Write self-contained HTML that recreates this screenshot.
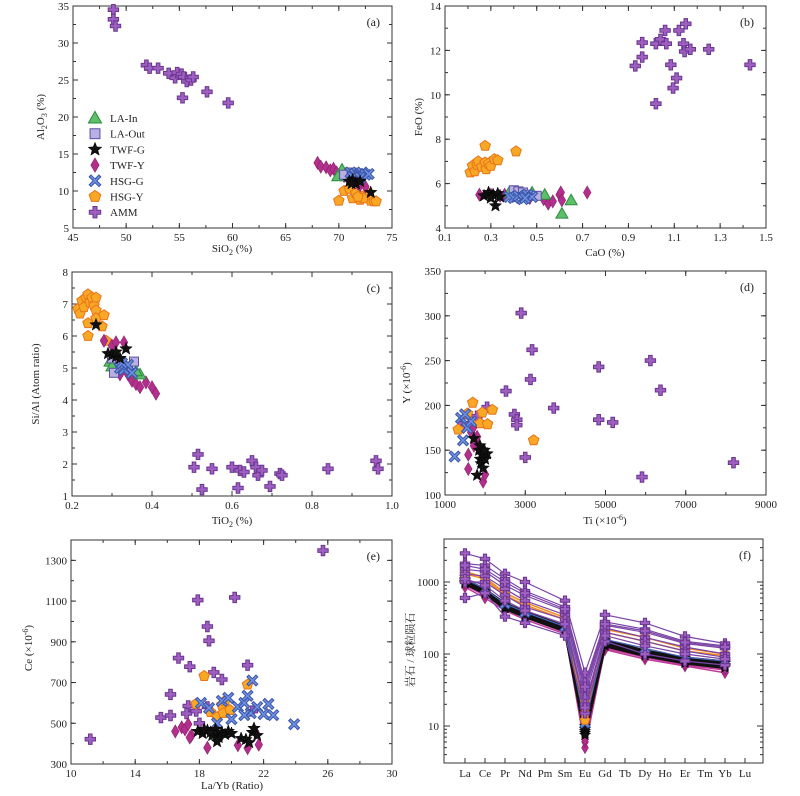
<!DOCTYPE html>
<html><head><meta charset="utf-8"><style>
html,body{margin:0;padding:0;background:#fff;}
svg{display:block;font-family:"Liberation Serif","Noto Serif CJK SC",serif;}
</style></head><body>
<svg id="fig" width="800" height="796" viewBox="0 0 800 796" xmlns="http://www.w3.org/2000/svg"></svg>
<script>
// ---------- data ----------
const groupNames = ["LA-In","LA-Out","TWF-G","TWF-Y","HSG-G","HSG-Y","AMM"];
// panel a: SiO2 vs Al2O3
const a_AMM=[[48.8,34.5],[48.8,33.2],[49,32.3],[51.9,27],[52.2,26.6],[53,26.6],[54,25.9],[54.6,25.3],[54.8,26],[55.2,25.8],[55.4,25.4],[55.7,24.8],[56.1,25],[56.3,25.4],[55.3,22.6],[57.6,23.4],[59.6,21.9]];
const a_TWFY=[[68,13.8],[68.3,13.3],[68.8,13.2],[69.2,12.8],[69.5,13],[69.8,12.5],[70.2,12.2],[70.5,12],[71,11.8],[71.5,11.5],[72,10.8],[72.5,10.6],[71.8,11],[70.8,12.3]];
const a_LAIn=[[70.3,12.9],[69.9,12],[70.6,12.3]];
const a_LAOut=[[70.5,12.2],[71.2,12.5],[71.8,12.4]];
const a_HSGG=[[71.1,12.5],[71.5,12.3],[71.9,12.1],[72.2,12.5],[72.5,12.2],[71.3,11.9],[72.8,12.3],[72.0,11.8]];
const a_TWFG=[[71,11.3],[71.3,11.5],[71.6,11],[72,11.3],[73,9.8],[71.2,11.0]];
const a_HSGY=[[70,8.7],[70.5,10],[71,10.3],[71.3,9],[71.6,9.7],[72,8.8],[72.5,9.5],[72.8,9.6],[73,8.7],[73.3,8.6],[73.5,8.6],[72.3,9],[71.8,9.2]];
// panel b: CaO vs FeO
const b_AMM=[[0.93,11.3],[0.96,12.35],[0.96,11.7],[1.02,9.6],[1.02,12.3],[1.04,12.5],[1.06,12.9],[1.065,12.3],[1.085,11.35],[1.095,10.3],[1.11,10.75],[1.12,12.9],[1.14,12.3],[1.145,11.95],[1.15,13.2],[1.17,12.05],[1.25,12.05],[1.43,11.35]];
const b_HSGY=[[0.21,6.5],[0.22,6.8],[0.23,6.55],[0.24,6.85],[0.245,7.0],[0.26,6.75],[0.275,6.95],[0.275,7.7],[0.28,6.65],[0.29,6.9],[0.3,6.8],[0.315,7.1],[0.33,7.05],[0.41,7.45]];
const b_TWFY=[[0.25,5.5],[0.3,5.5],[0.34,5.45],[0.36,5.5],[0.45,5.4],[0.47,5.35],[0.53,5.3],[0.55,5.1],[0.57,5.2],[0.6,5.5],[0.605,5.6],[0.61,5.25],[0.72,5.6]];
const b_LAIn=[[0.38,5.6],[0.48,5.6],[0.535,5.5],[0.61,4.65],[0.65,5.25]];
const b_LAOut=[[0.4,5.7],[0.42,5.65],[0.44,5.6],[0.46,5.5],[0.5,5.45],[0.41,5.4]];
const b_HSGG=[[0.38,5.4],[0.4,5.35],[0.42,5.45],[0.44,5.3],[0.46,5.5],[0.48,5.4],[0.45,5.35]];
const b_TWFG=[[0.27,5.45],[0.29,5.6],[0.31,5.5],[0.33,5.55],[0.32,5.0],[0.34,5.4],[0.3,5.35]];
// panel c: TiO2 vs Si/Al
const c_AMM=[[0.505,1.9],[0.515,2.3],[0.525,1.2],[0.55,1.85],[0.6,1.9],[0.615,1.25],[0.62,1.8],[0.63,1.75],[0.65,2.1],[0.66,1.9],[0.665,1.65],[0.675,1.8],[0.695,1.3],[0.72,1.7],[0.725,1.65],[0.84,1.85],[0.96,2.1],[0.965,1.85]];
const c_HSGY=[[0.215,6.85],[0.22,6.7],[0.225,7.1],[0.23,6.9],[0.235,7.2],[0.24,7.3],[0.245,7.05],[0.25,7.2],[0.255,6.95],[0.26,7.2],[0.26,6.8],[0.24,6.4],[0.24,6.0],[0.26,6.55],[0.275,6.3],[0.28,6.65],[0.285,5.85]];
const c_TWFY=[[0.28,5.85],[0.3,5.7],[0.31,5.8],[0.33,5.8],[0.32,4.8],[0.34,4.8],[0.35,4.6],[0.36,4.5],[0.37,4.4],[0.385,4.55],[0.4,4.4],[0.41,4.2]];
const c_LAIn=[[0.295,5.2],[0.3,5.05],[0.37,4.8],[0.36,4.9]];
const c_LAOut=[[0.3,5.3],[0.305,4.85],[0.32,5.2],[0.34,5.05],[0.355,5.2]];
const c_HSGG=[[0.32,5.0],[0.33,4.95],[0.34,5.1],[0.35,4.85],[0.325,5.15]];
const c_TWFG=[[0.26,6.35],[0.29,5.45],[0.3,5.4],[0.31,5.35],[0.32,5.3],[0.335,5.6],[0.31,5.5]];
// panel d: Ti vs Y
const d_AMM=[[2900,303],[3170,262],[3130,229],[2520,216],[3710,197],[2730,190],[2790,184],[2790,178],[3000,142],[4830,243],[4830,184],[5180,181],[5910,120],[6120,250],[6370,217],[8190,136],[2050,198],[1450,180],[1800,188]];
const d_HSGY=[[1330,173],[1560,191],[1690,203],[1930,192],[1870,180],[2060,179],[2180,195],[3210,161]];
const d_TWFY=[[1580,129],[1580,145],[1650,170],[1700,175],[1750,160],[1800,165],[1900,150],[1950,115],[2000,123],[1720,155]];
const d_LAIn=[];
const d_LAOut=[];
const d_HSGG=[[1240,143],[1450,161],[1400,186],[1550,175],[1650,182],[1500,190]];
const d_TWFG=[[1720,163],[1800,122],[1850,150],[1880,140],[1900,135],[1920,145],[1950,130],[2000,140],[2050,146],[1870,155],[1980,150]];
// panel e: La/Yb vs Ce
const e_AMM=[[11.2,422],[15.6,528],[16.2,538],[16.2,642],[16.7,820],[17.3,585],[17.4,778],[17.2,548],[17.9,1105],[18.5,975],[18.6,905],[18.9,750],[19.4,715],[20.2,1118],[21,785],[25.7,1348],[18.0,500],[18.5,580],[21.3,560],[17.8,560]];
const e_HSGY=[[17.8,595],[18.3,732],[18.7,555],[19.1,530],[19.4,590],[19.5,550],[19.6,610],[19.9,565],[21,690]];
const e_TWFY=[[16.5,460],[16.9,480],[17.1,470],[17.3,495],[17.5,440],[17.4,430],[18.5,380],[19,470],[20.4,392],[21,378],[21.7,395],[21.5,455]];
const e_LAIn=[];
const e_LAOut=[];
const e_HSGG=[[18.1,600],[18.6,575],[19.4,610],[19.8,625],[20.0,520],[20.4,580],[20.8,600],[21.0,635],[21.2,550],[21.3,710],[21.6,580],[22.0,545],[22.3,595],[22.6,540],[23.9,495],[19.1,500],[20.8,540]];
const e_TWFG=[[17.9,460],[18.2,450],[18.5,465],[18.8,440],[19,470],[19.2,430],[19.4,455],[19.6,445],[19.8,460],[20.0,450],[18.3,470],[18.7,455],[19.1,410],[20.6,425],[20.9,420],[21.3,455],[21.4,475],[21.6,440],[21.1,405]];
// panel f: REE chondrite-normalized
const reeLabels=["La","Ce","Pr","Nd","Pm","Sm","Eu","Gd","Tb","Dy","Ho","Er","Tm","Yb","Lu"];
const reeIdx=[0,1,2,3,5,6,7,9,11,13];
const f_TWFY=[[900,650,420,320,200,5,120,90,70,60],[850,600,400,300,190,6,115,85,68,55],[950,680,440,330,210,6.5,125,92,72,62]];
const f_TWFG=[[1050,750,450,340,220,8,140,100,80,70],[950,700,430,330,210,9,130,95,75,65],[1000,720,470,360,230,10,150,105,85,75],[1080,780,500,380,240,8.5,155,110,88,78],[980,690,440,335,215,7.5,135,98,78,68]];
const f_HSGG=[[1100,800,500,380,240,11,160,120,90,80]];
const f_HSGY=[[1400,1150,700,520,320,12,220,170,120,100],[1300,1100,650,480,300,15,200,150,110,95]];
const f_AMM=[[2500,2100,1300,1000,550,55,350,270,175,140],[1800,1700,1100,750,450,40,280,220,150,130],[1500,1400,900,650,400,30,250,200,140,120],[1300,1200,800,550,350,25,230,170,125,100],[1000,1000,650,450,300,20,200,150,110,90],[600,700,330,270,180,15,150,100,80,70],[1100,900,550,400,260,18,180,130,100,85],[1700,1500,1000,700,420,35,260,210,145,125]];

// ---------- drawing ----------
const NS="http://www.w3.org/2000/svg";
const svg=document.getElementById('fig');
function el(tag,attrs,parent){const e=document.createElementNS(NS,tag);for(const k in attrs)e.setAttribute(k,attrs[k]);(parent||svg).appendChild(e);return e;}
const styles={
 "LA-In":{t:"tri",f:"#5cc06a",s:"#2e8a3e"},
 "LA-Out":{t:"sq",f:"#b7b0e0",s:"#5b4ea6"},
 "TWF-G":{t:"star",f:"#111",s:"#000"},
 "TWF-Y":{t:"dia",f:"#b2308c",s:"#8c1f6c"},
 "HSG-G":{t:"x",f:"#6f8fe0",s:"#3a55a8"},
 "HSG-Y":{t:"pent",f:"#f9a825",s:"#e8741a"},
 "AMM":{t:"cross",f:"#9d5fc0",s:"#6b3590"}
};
function poly(pts){return pts.map(p=>p[0].toFixed(1)+","+p[1].toFixed(1)).join(" ");}
function marker(g,name,x,y,s){
 const st=styles[name];let m;
 if(st.t==="tri"){m=el("polygon",{points:poly([[x,y-s*0.6],[x+s*0.6,y+s*0.45],[x-s*0.6,y+s*0.45]]),fill:st.f,stroke:st.s,"stroke-width":1},g);}
 else if(st.t==="sq"){m=el("rect",{x:x-s*0.45,y:y-s*0.45,width:s*0.9,height:s*0.9,fill:st.f,stroke:st.s,"stroke-width":1},g);}
 else if(st.t==="star"){const p=[];for(let i=0;i<10;i++){const r=i%2?s*0.28:s*0.65;const a=-Math.PI/2+i*Math.PI/5;p.push([x+r*Math.cos(a),y+r*Math.sin(a)]);}m=el("polygon",{points:poly(p),fill:st.f,stroke:st.s,"stroke-width":0.5},g);}
 else if(st.t==="dia"){m=el("polygon",{points:poly([[x,y-s*0.65],[x+s*0.38,y],[x,y+s*0.65],[x-s*0.38,y]]),fill:st.f,stroke:st.s,"stroke-width":0.6},g);}
 else if(st.t==="x"){const r=s*0.36;const d=`M${x-r},${y-r}L${x+r},${y+r}M${x-r},${y+r}L${x+r},${y-r}`;m=el("g",{},g);el("path",{d:d,stroke:st.s,"stroke-width":3.6,"stroke-linecap":"square"},m);el("path",{d:d,stroke:st.f,"stroke-width":1.6,"stroke-linecap":"square"},m);}
 else if(st.t==="pent"){const p=[];for(let i=0;i<5;i++){const a=-Math.PI/2+i*2*Math.PI/5;p.push([x+s*0.55*Math.cos(a),y+s*0.55*Math.sin(a)]);}m=el("polygon",{points:poly(p),fill:st.f,stroke:st.s,"stroke-width":1},g);}
 else {const a=s*0.18,b=s*0.52;m=el("polygon",{points:poly([[x-a,y-b],[x+a,y-b],[x+a,y-a],[x+b,y-a],[x+b,y+a],[x+a,y+a],[x+a,y+b],[x-a,y+b],[x-a,y+a],[x-b,y+a],[x-b,y-a],[x-a,y-a]]),fill:st.f,stroke:st.s,"stroke-width":1},g);}
 
 
 return m;
}
function txt(x,y,s,attrs,parent){const t=el("text",Object.assign({x:x,y:y,"font-size":11,fill:"#222"},attrs||{}),parent);t.textContent=s;return t;}

function axes(P){
 const g=el("g",{});
 
 
 const sx=v=>P.L+(v-P.x0)/(P.x1-P.x0)*(P.R-P.L);
 const sy=P.log?(v=>P.B-(Math.log10(v)-P.y0)/(P.y1-P.y0)*(P.B-P.T)):(v=>P.B-(v-P.y0)/(P.y1-P.y0)*(P.B-P.T));
 const frame=el("rect",{x:P.L,y:P.T,width:P.R-P.L,height:P.B-P.T,fill:"none",stroke:"#333","stroke-width":1},g);
 
 
 const tk=el("g",{stroke:"#333","stroke-width":1},g);
 if(P.xt){P.xt.forEach((v,i)=>{const X=sx(v);el("line",{x1:X,y1:P.B,x2:X,y2:P.B-5},tk);el("line",{x1:X,y1:P.T,x2:X,y2:P.T+5},tk);
   const t=txt(X,P.B+13,P.xl?P.xl[i]:String(v),{"text-anchor":"middle"},g);});
  for(let v=P.xt[0];v<=P.x1+1e-9;v+=P.xm){const X=sx(v);el("line",{x1:X,y1:P.B,x2:X,y2:P.B-3},tk);el("line",{x1:X,y1:P.T,x2:X,y2:P.T+3},tk);}}
 if(!P.log){P.yt.forEach(v=>{const Y=sy(v);el("line",{x1:P.L,y1:Y,x2:P.L+5,y2:Y},tk);el("line",{x1:P.R,y1:Y,x2:P.R-5,y2:Y},tk);
   const t=txt(P.L-4,Y+4,String(v),{"text-anchor":"end"},g);});
  for(let v=P.y0;v<=P.y1+1e-9;v+=P.ym){const Y=sy(v);el("line",{x1:P.L,y1:Y,x2:P.L+3,y2:Y},tk);el("line",{x1:P.R,y1:Y,x2:P.R-3,y2:Y},tk);}}
 else {for(let d=1;d<=1000;d*=10){for(let k=1;k<10;k++){const v=d*k;const lv=Math.log10(v);if(lv<P.y0||lv>P.y1)continue;const Y=sy(v);const len=k===1?6:3;
   el("line",{x1:P.L,y1:Y,x2:P.L+len,y2:Y},tk);el("line",{x1:P.R,y1:Y,x2:P.R-len,y2:Y},tk);}}
  [10,100,1000].forEach(v=>{const t=txt(P.L-5,sy(v)+4,String(v),{"text-anchor":"end"},g);});}
 const pl=txt(P.R-12,P.T+20,"("+P.id+")",{"text-anchor":"end","font-size":12},g);
 
 
 return {g,sx,sy};
}
function xtitle(x,y,html,name){const t=el("text",{x:x,y:y,"font-size":11,fill:"#222","text-anchor":"middle"});t.innerHTML=html;}
function ytitle(x,y,html,name){const t=el("text",{x:0,y:0,"font-size":11,fill:"#222","text-anchor":"middle",transform:`translate(${x},${y}) rotate(-90)`});t.innerHTML=html;}

const panels=[
 {id:"a",L:73,R:392,T:6,B:228,x0:45,x1:75,y0:5,y1:35,xt:[45,50,55,60,65,70,75],xm:2.5,yt:[5,10,15,20,25,30,35],ym:2.5,
  d:{"AMM":a_AMM,"HSG-Y":a_HSGY,"TWF-Y":a_TWFY,"LA-In":a_LAIn,"LA-Out":a_LAOut,"HSG-G":a_HSGG,"TWF-G":a_TWFG}},
 {id:"b",L:445,R:766,T:6,B:228,x0:0.1,x1:1.5,y0:4,y1:14,xt:[0.1,0.3,0.5,0.7,0.9,1.1,1.3,1.5],xm:0.1,yt:[4,6,8,10,12,14],ym:1,
  d:{"AMM":b_AMM,"HSG-Y":b_HSGY,"TWF-Y":b_TWFY,"LA-In":b_LAIn,"LA-Out":b_LAOut,"HSG-G":b_HSGG,"TWF-G":b_TWFG}},
 {id:"c",L:72,R:392,T:272,B:496,x0:0.2,x1:1.0,y0:1,y1:8,xt:[0.2,0.4,0.6,0.8,1.0],xl:["0.2","0.4","0.6","0.8","1.0"],xm:0.1,yt:[1,2,3,4,5,6,7,8],ym:0.5,
  d:{"AMM":c_AMM,"HSG-Y":c_HSGY,"TWF-Y":c_TWFY,"LA-In":c_LAIn,"LA-Out":c_LAOut,"HSG-G":c_HSGG,"TWF-G":c_TWFG}},
 {id:"d",L:445,R:766,T:271,B:495,x0:1000,x1:9000,y0:100,y1:350,xt:[1000,3000,5000,7000,9000],xm:1000,yt:[100,150,200,250,300,350],ym:25,
  d:{"AMM":d_AMM,"HSG-Y":d_HSGY,"TWF-Y":d_TWFY,"LA-In":d_LAIn,"LA-Out":d_LAOut,"HSG-G":d_HSGG,"TWF-G":d_TWFG}},
 {id:"e",L:71,R:392,T:540,B:764,x0:10,x1:30,y0:300,y1:1400,xt:[10,14,18,22,26,30],xm:2,yt:[300,500,700,900,1100,1300],ym:100,
  d:{"AMM":e_AMM,"HSG-Y":e_HSGY,"TWF-Y":e_TWFY,"LA-In":e_LAIn,"LA-Out":e_LAOut,"HSG-G":e_HSGG,"TWF-G":e_TWFG}}
];
panels.forEach(P=>{
 const A=axes(P);
 for(const name in P.d){
  const sg=el("g",{},A.g);
  
  
  P.d[name].forEach(p=>marker(sg,name,A.sx(p[0]),A.sy(p[1]),10));
 }
});
// legend in (a)
const lg=el("g",{});


groupNames.forEach((n,i)=>{const y=118+i*15.7;const e=el("g",{},lg);
 
 
 marker(e,n,95,y,11);txt(110,y+4,n,{"font-size":11},e);});

// panel f
const PF={id:"f",L:444,R:763,T:539,B:763,x0:0,x1:1,y0:0.486,y1:3.597,log:true};
const AF=axes(PF);
const cx=i=>465+i*20;
reeLabels.forEach((l,i)=>{const t=txt(cx(i),777,l,{"text-anchor":"middle"},AF.g);
 el("line",{x1:cx(i),y1:PF.B,x2:cx(i),y2:PF.B-5,stroke:"#333"},AF.g);});
const fSeries=[["TWF-Y",f_TWFY,"#c03a9a",1.5],["TWF-G",f_TWFG,"#111",3],["HSG-G",f_HSGG,"#4a66c0",1.2],["HSG-Y",f_HSGY,"#f28c1a",1.5],["AMM",f_AMM,"#7b45a8",1.2]];
fSeries.forEach(([name,rows,col,w])=>{
 const sg=el("g",{},AF.g);
 
 
 rows.forEach(r=>{
  const pts=r.map((v,j)=>[cx(reeIdx[j]),AF.sy(v)]);
  const ln=el("polyline",{points:poly(pts),fill:"none",stroke:col,"stroke-width":w},sg);
  
  
  pts.forEach(p=>marker(sg,name,p[0],p[1],9));
 });
});

// axis titles
xtitle(232,252,'SiO<tspan font-size="8" dy="3">2</tspan><tspan dy="-3"> (%)</tspan>','x-axis-title-a');
ytitle(44,117,'Al<tspan font-size="8" dy="3">2</tspan><tspan dy="-3">O</tspan><tspan font-size="8" dy="3">3</tspan><tspan dy="-3"> (%)</tspan>','y-axis-title-a');
xtitle(605,256,'CaO (%)','x-axis-title-b');
ytitle(422,117,'FeO (%)','y-axis-title-b');
xtitle(232,524,'TiO<tspan font-size="8" dy="3">2</tspan><tspan dy="-3"> (%)</tspan>','x-axis-title-c');
ytitle(39,384,'Si/Al (Atom ratio)','y-axis-title-c');
xtitle(605,524,'Ti (×10<tspan font-size="8" dy="-4">-6</tspan><tspan dy="4">)</tspan>','x-axis-title-d');
ytitle(410,383,'Y (×10<tspan font-size="8" dy="-4">-6</tspan><tspan dy="4">)</tspan>','y-axis-title-d');
xtitle(232,789,'La/Yb (Ratio)','x-axis-title-e');
ytitle(32,648,'Ce (×10<tspan font-size="8" dy="-4">-6</tspan><tspan dy="4">)</tspan>','y-axis-title-e');
ytitle(414,650,'岩石 / 球粒陨石','y-axis-title-f');
</script>
</body></html>
